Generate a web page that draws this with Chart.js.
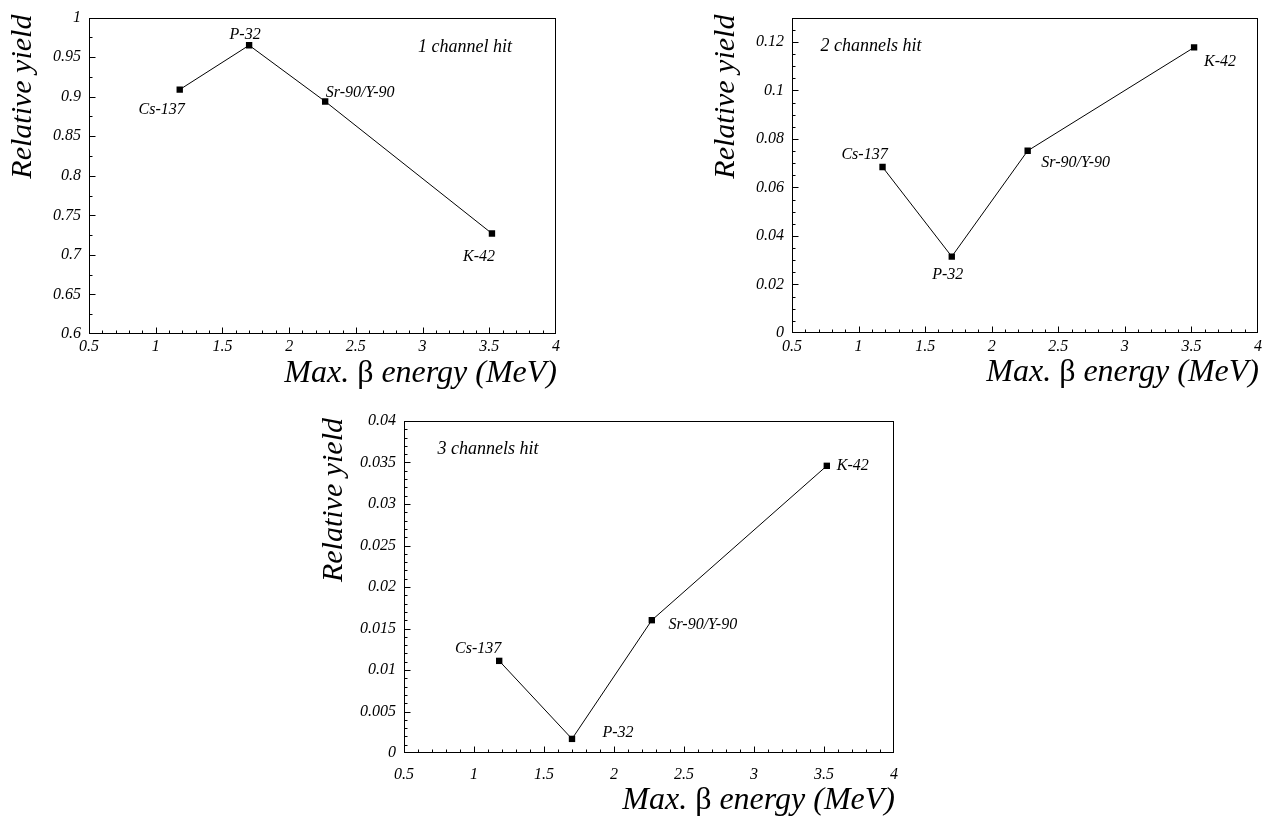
<!DOCTYPE html>
<html>
<head>
<meta charset="utf-8">
<script src="https://cdn.jsdelivr.net/npm/chart.js@4.4.1/dist/chart.umd.min.js"></script>
<style>
  body { margin: 0; background: #fff; width: 1272px; height: 820px; overflow: hidden; }
  .panel { position: absolute; }
</style>
</head>
<body>
<div class="panel" style="left:0;top:0;width:570px;height:400px"><canvas id="c1"></canvas></div>
<div class="panel" style="left:700px;top:0;width:572px;height:400px"><canvas id="c2"></canvas></div>
<div class="panel" style="left:310px;top:400px;width:600px;height:420px"><canvas id="c3"></canvas></div>
<script>
// source data
const isotopes = ["Cs-137", "P-32", "Sr-90/Y-90", "K-42"];
const energies = [1.18, 1.70, 2.27, 3.52];          // max beta energy (MeV)
const yield1 = [0.909, 0.965, 0.894, 0.727];        // 1 channel hit
const yield2 = [0.0684, 0.0315, 0.0751, 0.1177];    // 2 channels hit
const yield3 = [0.0111, 0.0017, 0.0160, 0.0346];    // 3 channels hit
const panelNotes = ["1 channel hit", "2 channels hit", "3 channels hit"];

const xTicks = [0.5, 1, 1.5, 2, 2.5, 3, 3.5, 4];
const yTicks1 = [0.6, 0.65, 0.7, 0.75, 0.8, 0.85, 0.9, 0.95, 1];
const yTicks2 = [0, 0.02, 0.04, 0.06, 0.08, 0.1, 0.12];
const yTicks3 = [0, 0.005, 0.01, 0.015, 0.02, 0.025, 0.03, 0.035, 0.04];

const serif = "'Liberation Serif', 'Times New Roman', serif";

// box, inward ticks, titles and point labels
const decor = {
  id: "decor",
  afterDraw(chart, args, o) {
    const { ctx, chartArea: a, scales } = chart;
    const L = Math.round(a.left) + 0.5, T = Math.round(a.top) + 0.5;
    const R = Math.round(a.right) - 0.5, B = Math.round(a.bottom) - 0.5;
    ctx.save();
    ctx.strokeStyle = "#000";
    ctx.lineWidth = 1;
    ctx.strokeRect(L, T, R - L, B - T);

    // minor / major ticks pointing into the frame
    const tickRun = (scale, minor, major, horiz) => {
      const n = Math.round((scale.max - scale.min) / minor);
      ctx.beginPath();
      for (let i = 1; i < n; i++) {
        const v = scale.min + i * minor;
        const r = v / major;
        const len = Math.abs(r - Math.round(r)) < 1e-6 ? 6 : 3;
        const p = Math.round(scale.getPixelForValue(v)) + 0.5;
        if (horiz) { ctx.moveTo(p, B); ctx.lineTo(p, B - len); }
        else { ctx.moveTo(L, p); ctx.lineTo(L + len, p); }
      }
      ctx.stroke();
    };
    tickRun(scales.x, 0.1, 0.5, true);
    tickRun(scales.y, o.yMinor, o.yMajor, false);

    ctx.fillStyle = "#000";
    // panel note
    ctx.font = "italic 18px " + serif;
    ctx.textAlign = "center";
    ctx.textBaseline = "middle";
    ctx.fillText(o.note, a.left + o.notePos[0], a.top + o.notePos[1]);

    // isotope labels next to markers
    ctx.font = "italic 16px " + serif;
    const pts = chart.getDatasetMeta(0).data;
    pts.forEach((p, i) => {
      ctx.fillText(isotopes[i], p.x + o.offsets[i][0], p.y + o.offsets[i][1]);
    });

    // y title
    ctx.save();
    ctx.translate(a.left - o.yTitleGap, a.top - 3);
    ctx.rotate(-Math.PI / 2);
    ctx.font = "italic 30px " + serif;
    ctx.textAlign = "right";
    ctx.textBaseline = "middle";
    ctx.fillText("Relative yield", 0, 0);
    ctx.restore();

    // x title, beta upright
    const parts = [["Max. ", "italic"], ["\u03B2", "normal"], [" energy (MeV)", "italic"]];
    let x = a.right + 1;
    const ty = a.bottom + o.xTitleGap;
    ctx.textAlign = "right";
    for (let k = parts.length - 1; k >= 0; k--) {
      ctx.font = parts[k][1] + " 32px " + serif;
      ctx.fillText(parts[k][0], x, ty);
      x -= ctx.measureText(parts[k][0]).width;
    }
    ctx.restore();
  }
};

function makeChart(id, values, yMin, yMax, yTicks, cfg) {
  const tickFont = { family: serif, style: "italic", size: 16 };
  return new Chart(document.getElementById(id), {
    type: "scatter",
    data: {
      datasets: [{
        data: energies.map((e, i) => ({ x: e, y: values[i] })),
        showLine: true,
        borderColor: "#000",
        borderWidth: 1,
        pointStyle: "rect",
        pointRadius: 4.5,
        pointBackgroundColor: "#000",
        pointBorderWidth: 0
      }]
    },
    options: {
      responsive: true,
      maintainAspectRatio: false,
      animation: false,
      devicePixelRatio: 1,
      layout: { padding: { top: cfg.padTop, right: cfg.padRight, left: 0, bottom: 0 } },
      plugins: {
        legend: { display: false },
        tooltip: { enabled: false },
        decor: cfg
      },
      scales: {
        x: {
          type: "linear",
          min: 0.5, max: 4,
          grid: { display: false, drawTicks: false },
          border: { display: false },
          afterBuildTicks: s => { s.ticks = xTicks.map(v => ({ value: v })); },
          afterFit: s => { s.height = cfg.xHeight; },
          ticks: {
            color: "#000", font: tickFont, padding: cfg.xPad, maxRotation: 0,
            callback: v => String(parseFloat(v.toFixed(4)))
          }
        },
        y: {
          min: yMin, max: yMax,
          grid: { display: false, drawTicks: false },
          border: { display: false },
          afterBuildTicks: s => { s.ticks = yTicks.map(v => ({ value: v })); },
          afterFit: s => { s.width = cfg.yWidth; },
          ticks: {
            color: "#000", font: tickFont, padding: 8,
            callback: v => String(parseFloat(v.toFixed(4)))
          }
        }
      }
    },
    plugins: [decor]
  });
}

makeChart("c1", yield1, 0.6, 1, yTicks1, {
  yWidth: 89, xHeight: 66, padTop: 13, padRight: 14, xPad: 3,
  yMinor: 0.025, yMajor: 0.05, note: panelNotes[0], notePos: [376, 30],
  offsets: [[-18, 20], [-4, -10], [35, -9], [-13, 23]],
  yTitleGap: 66, xTitleGap: 40
});

makeChart("c2", yield2, 0, 0.13, yTicks2, {
  yWidth: 92, xHeight: 67, padTop: 13, padRight: 14, xPad: 4,
  yMinor: 0.005, yMajor: 0.02, note: panelNotes[1], notePos: [79, 29],
  offsets: [[-18, -12], [-4, 18], [48, 12], [26, 14]],
  yTitleGap: 66, xTitleGap: 40
});

makeChart("c3", yield3, 0, 0.04, yTicks3, {
  yWidth: 94, xHeight: 67, padTop: 21, padRight: 12, xPad: 12,
  yMinor: 0.001, yMajor: 0.005, note: panelNotes[2], notePos: [84, 28],
  offsets: [[-21, -12], [46, -6], [51, 5], [26, 0]],
  yTitleGap: 70, xTitleGap: 48
});
</script>
</body>
</html>
